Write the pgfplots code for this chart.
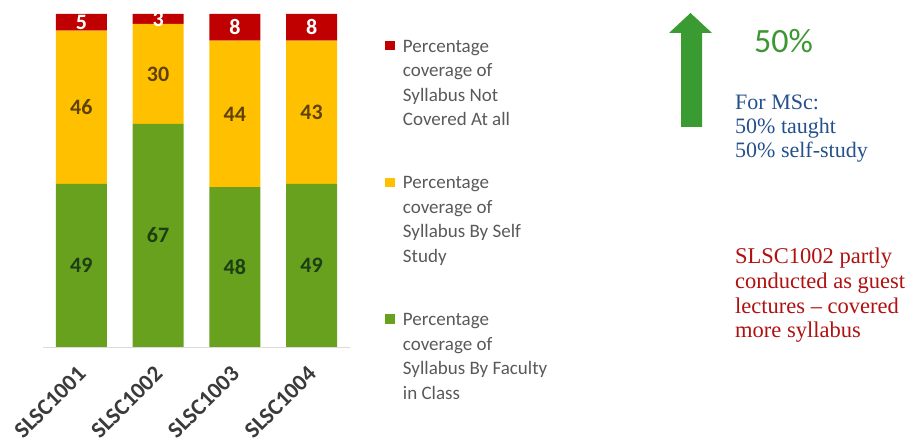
\documentclass[border=0pt]{standalone}
\usepackage{pgfplots}
\pgfplotsset{compat=1.18}
\usepackage{pgfplotstable}
\usepackage{fontspec}
\setmainfont{Carlito}
\newfontfamily\seriffont{Liberation Serif}
\definecolor{cred}{RGB}{192,0,0}
\definecolor{cyellow}{RGB}{255,192,0}
\definecolor{cgreen}{RGB}{104,161,30}
\definecolor{lblgreen}{RGB}{28,62,18}
\definecolor{lblyellow}{RGB}{96,66,8}
\definecolor{tickgray}{RGB}{58,58,58}
\definecolor{leggray}{RGB}{89,89,89}
\definecolor{arrowgreen}{RGB}{58,155,50}
\definecolor{pctgreen}{RGB}{60,150,50}
\definecolor{noteblue}{RGB}{36,80,140}
\definecolor{notered}{RGB}{176,16,16}

\pgfplotstableread{
x faculty self notcov
0 49 46 5
1 67 30 3
2 48 44 8
3 49 43 8
}\coverage

\begin{document}
\begin{tikzpicture}
\useasboundingbox (0bp,0bp) rectangle (914bp,445bp);
\begin{axis}[
  at={(43bp,98bp)}, anchor=south west,
  scale only axis, width=307bp, height=333bp,
  xmin=-0.5, xmax=3.5, ymin=0, ymax=100,
  enlargelimits=false,
  ybar stacked, bar width=51bp,
  axis x line*=bottom, axis y line=none,
  x axis line style={draw=black!14, line width=0.8bp},
  xtick={0,1,2,3}, xticklabels={SLSC1001,SLSC1002,SLSC1003,SLSC1004},
  ytick=\empty, major tick length=0pt,
  xticklabel style={font=\fontsize{23bp}{23bp}\selectfont\bfseries, text=tickgray,
    xshift=3bp, yshift=-21bp, rotate=45, anchor=east},
  clip=false,
  nodes near coords={\pgfplotspointmeta},
  point meta=explicit symbolic,
  nodes near coords style={font=\fontsize{22bp}{22bp}\selectfont\bfseries,
    anchor=center},
  legend style={at={(axis description cs:1.114,0.928)}, anchor=north west,
    draw=none, fill=none, inner sep=0pt, outer sep=0pt,
    row sep=45.5bp, column sep=6bp,
    font=\fontsize{19bp}{24.5bp}\selectfont, text=leggray,
    cells={anchor=north west, align=left, inner sep=0pt}},
  legend image code/.code={\fill[#1] (0bp,-3bp) rectangle (10bp,-12.5bp);},
  reverse legend,
]
\addplot[fill=cgreen, draw=none,
  nodes near coords style={text=lblgreen}]
  table[x=x, y=faculty, meta=faculty]{\coverage};
\addlegendentry{Percentage\\coverage of\\Syllabus By Faculty\\in Class}
\addplot[fill=cyellow, draw=none,
  nodes near coords style={text=lblyellow}]
  table[x=x, y=self, meta=self]{\coverage};
\addlegendentry{Percentage\\coverage of\\Syllabus By Self\\Study}
\addplot[fill=cred, draw=none,
  nodes near coords style={text=white}]
  table[x=x, y=notcov, meta=notcov]{\coverage};
\addlegendentry{Percentage\\coverage of\\Syllabus Not\\Covered At all}
\end{axis}

\fill[arrowgreen] (681bp,318bp) -- (702bp,318bp) -- (702bp,412bp) -- (712bp,412bp)
  -- (690.5bp,432bp) -- (669bp,412bp) -- (681bp,412bp) -- cycle;
\node[anchor=base west, inner sep=0pt, text=pctgreen, font=\fontsize{34bp}{34bp}\selectfont]
  at (754bp,392bp) {50\%};
\begin{scope}[every node/.style={anchor=base west, inner sep=0pt, text=noteblue,
    font=\fontsize{22bp}{22bp}\seriffont}]
\node at (735bp,335bp) {For MSc:};
\node at (735bp,311bp) {50\% taught};
\node at (735bp,287bp) {50\% self-study};
\end{scope}
\begin{scope}[every node/.style={anchor=base west, inner sep=0pt, text=notered,
    font=\fontsize{22.5bp}{22.5bp}\seriffont}]
\node at (735bp,181bp) {SLSC1002 partly};
\node at (735bp,156bp) {conducted as guest};
\node at (735bp,131bp) {lectures – covered};
\node at (735bp,107bp) {more syllabus};
\end{scope}
\end{tikzpicture}
\end{document}
